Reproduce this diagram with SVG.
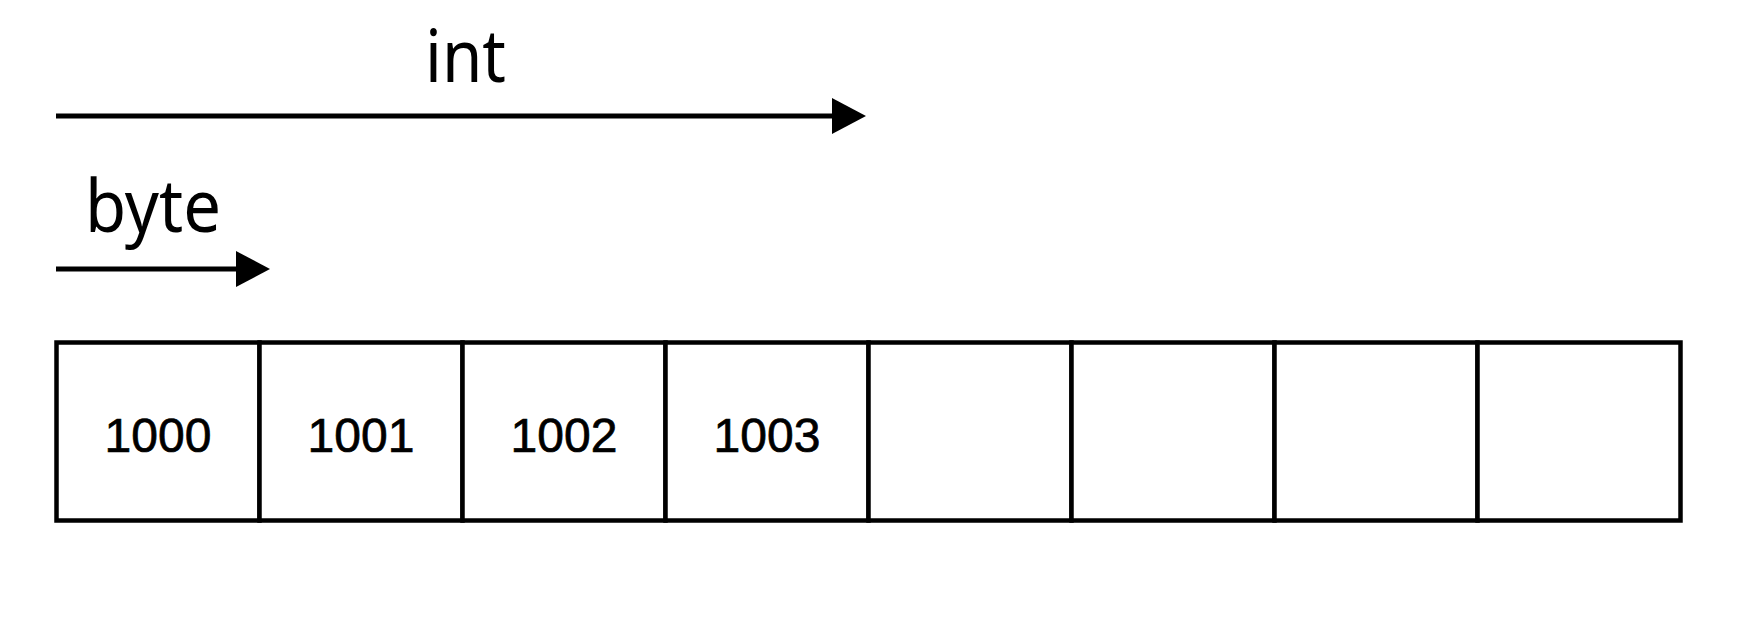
<svg xmlns="http://www.w3.org/2000/svg" width="1760" height="620" viewBox="0 0 1760 620">
<style>
.lbl{font-family:"Noto Sans","DejaVu Sans",sans-serif;font-size:73px;fill:#000}
.num{font-family:"Liberation Sans",Arial,sans-serif;font-size:48px;fill:#000;stroke:#000;stroke-width:0.7;text-anchor:middle}
.cell{fill:#fff;stroke:#000;stroke-width:4.5}
.conn{stroke:#000;stroke-width:5;fill:none}
</style>
<defs>
<marker id="ah" markerUnits="userSpaceOnUse" markerWidth="36" markerHeight="38" refX="1" refY="18" orient="auto">
<path d="M0,0 L34,18 L0,36 Z" fill="#000"/>
</marker>
</defs>
<rect width="1760" height="620" fill="#fff"/>
<g id="connectors">
<line class="conn" x1="56" y1="116" x2="833" y2="116" marker-end="url(#ah)"/>
<line class="conn" x1="56" y1="269" x2="237" y2="269" marker-end="url(#ah)"/>
</g>
<g id="label-int"><text class="lbl" x="425" y="82" textLength="81" lengthAdjust="spacingAndGlyphs">int</text></g>
<g id="label-byte"><text class="lbl" x="85" y="232" textLength="136" lengthAdjust="spacingAndGlyphs">byte</text></g>
<g id="cell-0"><rect class="cell" x="56.5" y="342.5" width="203" height="178"/><text class="num" x="158" y="452">1000</text></g>
<g id="cell-1"><rect class="cell" x="259.5" y="342.5" width="203" height="178"/><text class="num" x="361" y="452">1001</text></g>
<g id="cell-2"><rect class="cell" x="462.5" y="342.5" width="203" height="178"/><text class="num" x="564" y="452">1002</text></g>
<g id="cell-3"><rect class="cell" x="665.5" y="342.5" width="203" height="178"/><text class="num" x="767" y="452">1003</text></g>
<g id="cell-4"><rect class="cell" x="868.5" y="342.5" width="203" height="178"/></g>
<g id="cell-5"><rect class="cell" x="1071.5" y="342.5" width="203" height="178"/></g>
<g id="cell-6"><rect class="cell" x="1274.5" y="342.5" width="203" height="178"/></g>
<g id="cell-7"><rect class="cell" x="1477.5" y="342.5" width="203" height="178"/></g>
</svg>
